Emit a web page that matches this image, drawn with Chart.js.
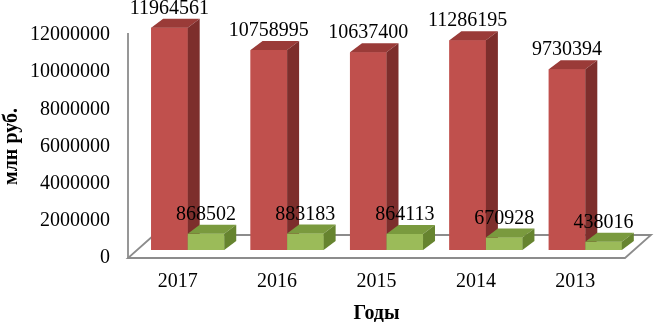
<!DOCTYPE html>
<html><head><meta charset="utf-8">
<script src="https://cdn.jsdelivr.net/npm/chart.js@4"></script>
<style>html,body{margin:0;padding:0;background:#fff}#wrap{width:657px;height:322px}</style>
</head><body><div id="wrap"><canvas id="c" width="657" height="322"></canvas></div>
<script>
// ---- data ----
const categories = ['2017', '2016', '2015', '2014', '2013'];
const seriesRed = [11964561, 10758995, 10637400, 11286195, 9730394];
const seriesGreen = [868502, 883183, 864113, 670928, 438016];
const yTickValues = [0, 2000000, 4000000, 6000000, 8000000, 10000000, 12000000];
const yTitle = 'млн руб.';
const xTitle = 'Годы';

// ---- style ----
const FONT = '"Liberation Serif", "Times New Roman", serif';
const faces = [
  { front: '#C0504D', top: '#9A3B38', side: '#7D2E2C' },
  { front: '#9BBB59', top: '#7A9A3E', side: '#66842F' }
];
const DX = 12, DY = 9;          // bar depth projection
const SX = 10, SY = -8;         // bars sit mid-depth on the floor
const FX = 26, FY = 23;         // floor depth projection

const threeD = {
  id: 'threeD',
  beforeDatasetsDraw(chart) {
    const { ctx, chartArea: a } = chart;
    ctx.save();
    ctx.strokeStyle = '#8C8C8C';
    ctx.lineWidth = 1.8;
    // wall edge
    ctx.beginPath();
    ctx.moveTo(a.left, a.top - 2);
    ctx.lineTo(a.left, a.bottom);
    ctx.stroke();
    // floor
    ctx.beginPath();
    ctx.moveTo(a.left, a.bottom);
    ctx.lineTo(a.right, a.bottom);
    ctx.lineTo(a.right + FX, a.bottom - FY);
    ctx.lineTo(a.left + FX, a.bottom - FY);
    ctx.closePath();
    ctx.stroke();
    ctx.restore();
    ctx.save();
    ctx.translate(SX, SY);
  },
  afterDatasetsDraw(chart) {
    const { ctx } = chart;
    const metas = [chart.getDatasetMeta(0), chart.getDatasetMeta(1)];
    const n = categories.length;
    const labels = [];
    for (let i = 0; i < n; i++) {
      metas.forEach((meta, d) => {
        const el = meta.data[i];
        const { x, y, base, width } = el.getProps(['x', 'y', 'base', 'width'], true);
        const l = x - width / 2, r = x + width / 2;
        const f = faces[d];
        ctx.fillStyle = f.front;
        ctx.fillRect(l, y, width, base - y);
        ctx.fillStyle = f.top;
        ctx.beginPath();
        ctx.moveTo(l, y); ctx.lineTo(r, y); ctx.lineTo(r + DX, y - DY); ctx.lineTo(l + DX, y - DY);
        ctx.closePath(); ctx.fill();
        ctx.fillStyle = f.side;
        ctx.beginPath();
        ctx.moveTo(r, y); ctx.lineTo(r + DX, y - DY); ctx.lineTo(r + DX, base - DY); ctx.lineTo(r, base);
        ctx.closePath(); ctx.fill();
        const v = chart.data.datasets[d].data[i];
        labels.push({ x, y: y - DY - 5, t: String(v) });
      });
    }
    ctx.fillStyle = '#000';
    ctx.font = '20px ' + FONT;
    ctx.textAlign = 'center';
    ctx.textBaseline = 'alphabetic';
    labels.forEach(o => ctx.fillText(o.t, o.x, o.y));
    ctx.restore();
  }
};

new Chart(document.getElementById('c'), {
  type: 'bar',
  data: {
    labels: categories,
    datasets: [
      { data: seriesRed, backgroundColor: faces[0].front, clip: false },
      { data: seriesGreen, backgroundColor: faces[1].front, clip: false }
    ]
  },
  options: {
    responsive: false,
    animation: false,
    devicePixelRatio: 1,
    categoryPercentage: 0.735,
    barPercentage: 1,
    layout: { padding: { top: 35, right: 32, left: 0, bottom: 0 } },
    plugins: { legend: { display: false }, tooltip: { enabled: false } },
    scales: {
      x: {
        grid: { display: false, drawTicks: false },
        border: { display: false },
        ticks: { color: '#000', font: { family: FONT, size: 20 }, padding: 12, maxRotation: 0 },
        title: { display: true, text: xTitle, color: '#000', font: { family: FONT, size: 20, weight: 'bold' }, padding: { top: 0, bottom: -4 } },
        afterFit(s) { s.height = 64; }
      },
      y: {
        min: 0, max: 12000000,
        afterBuildTicks(s) { s.ticks = yTickValues.map(v => ({ value: v })); },
        grid: { display: false, drawTicks: false },
        border: { display: false },
        ticks: { color: '#000', font: { family: FONT, size: 20 }, padding: 18, callback: v => String(v) },
        title: { display: true, text: yTitle, color: '#000', font: { family: FONT, size: 20, weight: 'bold' }, padding: 0 },
        afterFit(s) { s.width = 128; }
      }
    }
  },
  plugins: [threeD]
});
</script>
</body></html>
